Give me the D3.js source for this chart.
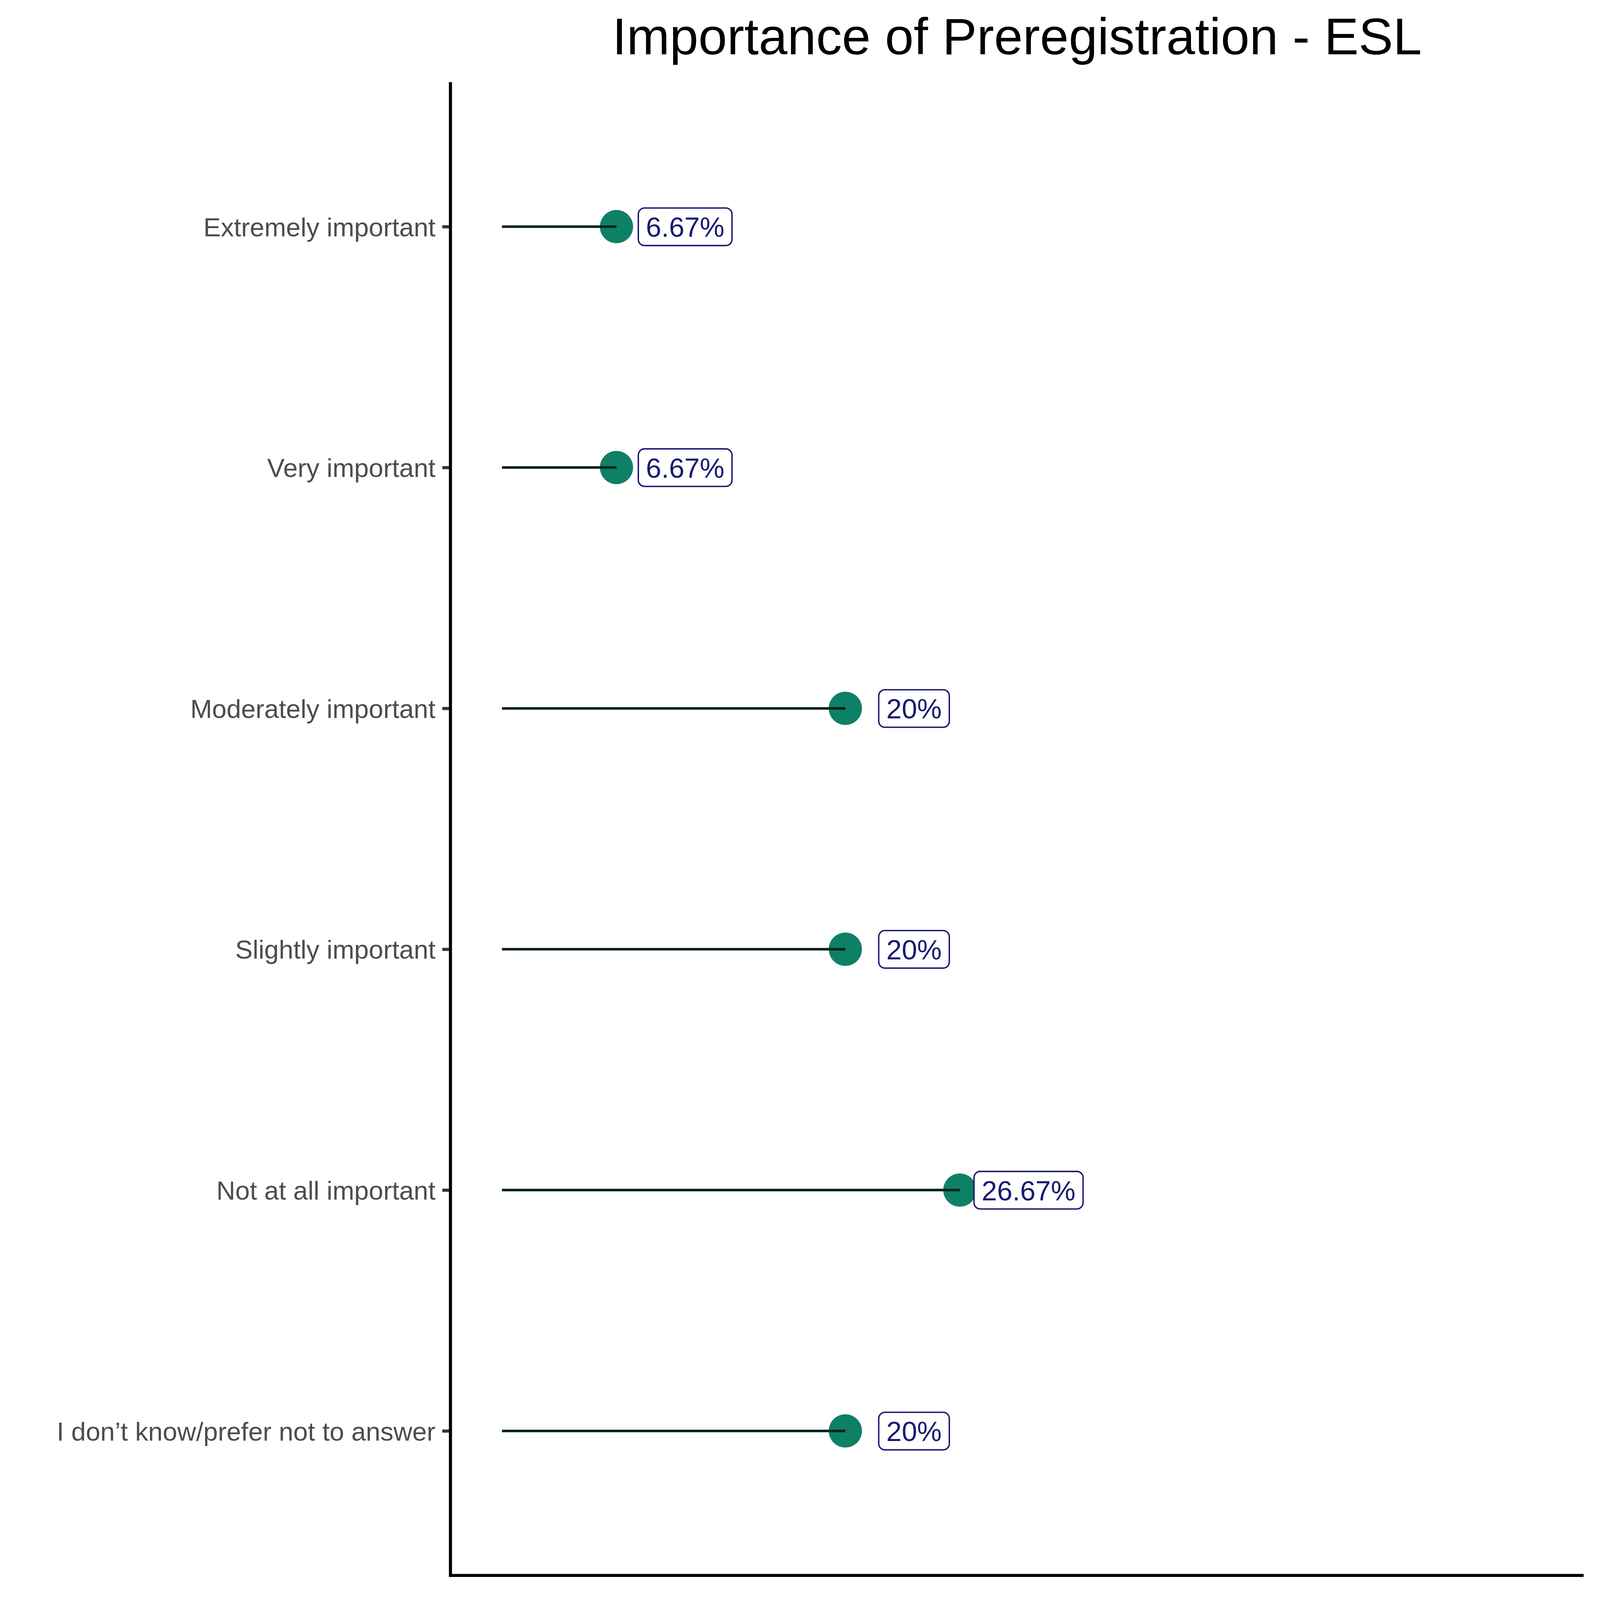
<!DOCTYPE html>
<html>
<head>
<meta charset="utf-8">
<script src="https://cdn.jsdelivr.net/npm/d3@7"></script>
<style>
  html, body { margin: 0; padding: 0; background: #ffffff; width: 100%; height: 100%; overflow: hidden; }
  svg { display: block; width: 100vw; height: 100vh; }
</style>
</head>
<body>
<script>
// ---- data ----
const categories = [
  "Extremely important",
  "Very important",
  "Moderately important",
  "Slightly important",
  "Not at all important",
  "I don\u2019t know/prefer not to answer"
];
const values = [6.67, 6.67, 20, 20, 26.67, 20];
const valueLabels = ["6.67%", "6.67%", "20%", "20%", "26.67%", "20%"];
const xDomain = [0, 60];
const labelNudge = 4;
const titleText = "Importance of Preregistration - ESL";

// ---- layout ----
const W = 5669, H = 5669;
const panel = { left: 1596, right: 5611, top: 291, bottom: 5582 };
const FONT = "'Liberation Sans', Arial, Helvetica, sans-serif";

const svg = d3.select("body").append("svg")
  .attr("viewBox", `0 0 ${W} ${H}`)
  .attr("preserveAspectRatio", "xMidYMid meet");

svg.append("rect").attr("width", W).attr("height", H).attr("fill", "#ffffff");

const span = xDomain[1] - xDomain[0];
const x = d3.scaleLinear()
  .domain([xDomain[0] - 0.05 * span, xDomain[1] + 0.05 * span])
  .range([panel.left, panel.right]);

const y = d3.scalePoint()
  .domain(categories)
  .range([panel.top, panel.bottom])
  .padding(0.6);

const data = categories.map((c, i) => ({ cat: c, v: values[i], lab: valueLabels[i] }));

// title
svg.append("text")
  .attr("x", (panel.left + panel.right) / 2)
  .attr("y", 192)
  .attr("text-anchor", "middle")
  .attr("font-family", FONT)
  .attr("font-size", 183)
  .attr("fill", "#000000")
  .text(titleText);

// y axis
const yAxis = d3.axisLeft(y).tickSize(29).tickPadding(24);
const gy = svg.append("g")
  .attr("transform", `translate(${panel.left},0)`)
  .call(yAxis);
gy.select(".domain").remove();
gy.selectAll(".tick line").attr("stroke", "#333333").attr("stroke-width", 11);
gy.selectAll(".tick text")
  .attr("font-family", FONT)
  .attr("font-size", 92.5)
  .attr("fill", "#4D4D4D")
  .attr("dy", "0.36em");

// axis lines
svg.append("line")
  .attr("x1", panel.left).attr("x2", panel.left)
  .attr("y1", panel.top).attr("y2", panel.bottom)
  .attr("stroke", "#000000").attr("stroke-width", 11);
svg.append("line")
  .attr("x1", panel.left - 5.5).attr("x2", panel.right)
  .attr("y1", panel.bottom).attr("y2", panel.bottom)
  .attr("stroke", "#000000").attr("stroke-width", 11);

// points
svg.append("g").selectAll("circle").data(data).join("circle")
  .attr("cx", d => x(d.v))
  .attr("cy", d => y(d.cat))
  .attr("r", 59)
  .attr("fill", "#0E8066");

// segments
svg.append("g").selectAll("line").data(data).join("line")
  .attr("x1", x(0))
  .attr("x2", d => x(d.v))
  .attr("y1", d => y(d.cat))
  .attr("y2", d => y(d.cat))
  .attr("stroke", "#03211F")
  .attr("stroke-width", 9);

// labels
const lg = svg.append("g").selectAll("g").data(data).join("g")
  .attr("transform", d => `translate(${x(d.v + labelNudge)},${y(d.cat)})`);
lg.append("rect")
  .attr("fill", "#ffffff")
  .attr("stroke", "#191970")
  .attr("stroke-width", 5)
  .attr("rx", 22).attr("ry", 22);
const texts = lg.append("text")
  .attr("text-anchor", "middle")
  .attr("font-family", FONT)
  .attr("font-size", 98)
  .attr("fill", "#191970")
  .attr("y", 36)
  .text(d => d.lab);
texts.each(function(d) {
  const w = this.getComputedTextLength();
  d3.select(this.parentNode).select("rect")
    .attr("x", -w / 2 - 27).attr("width", w + 54)
    .attr("y", -66).attr("height", 133);
});
</script>
</body>
</html>
